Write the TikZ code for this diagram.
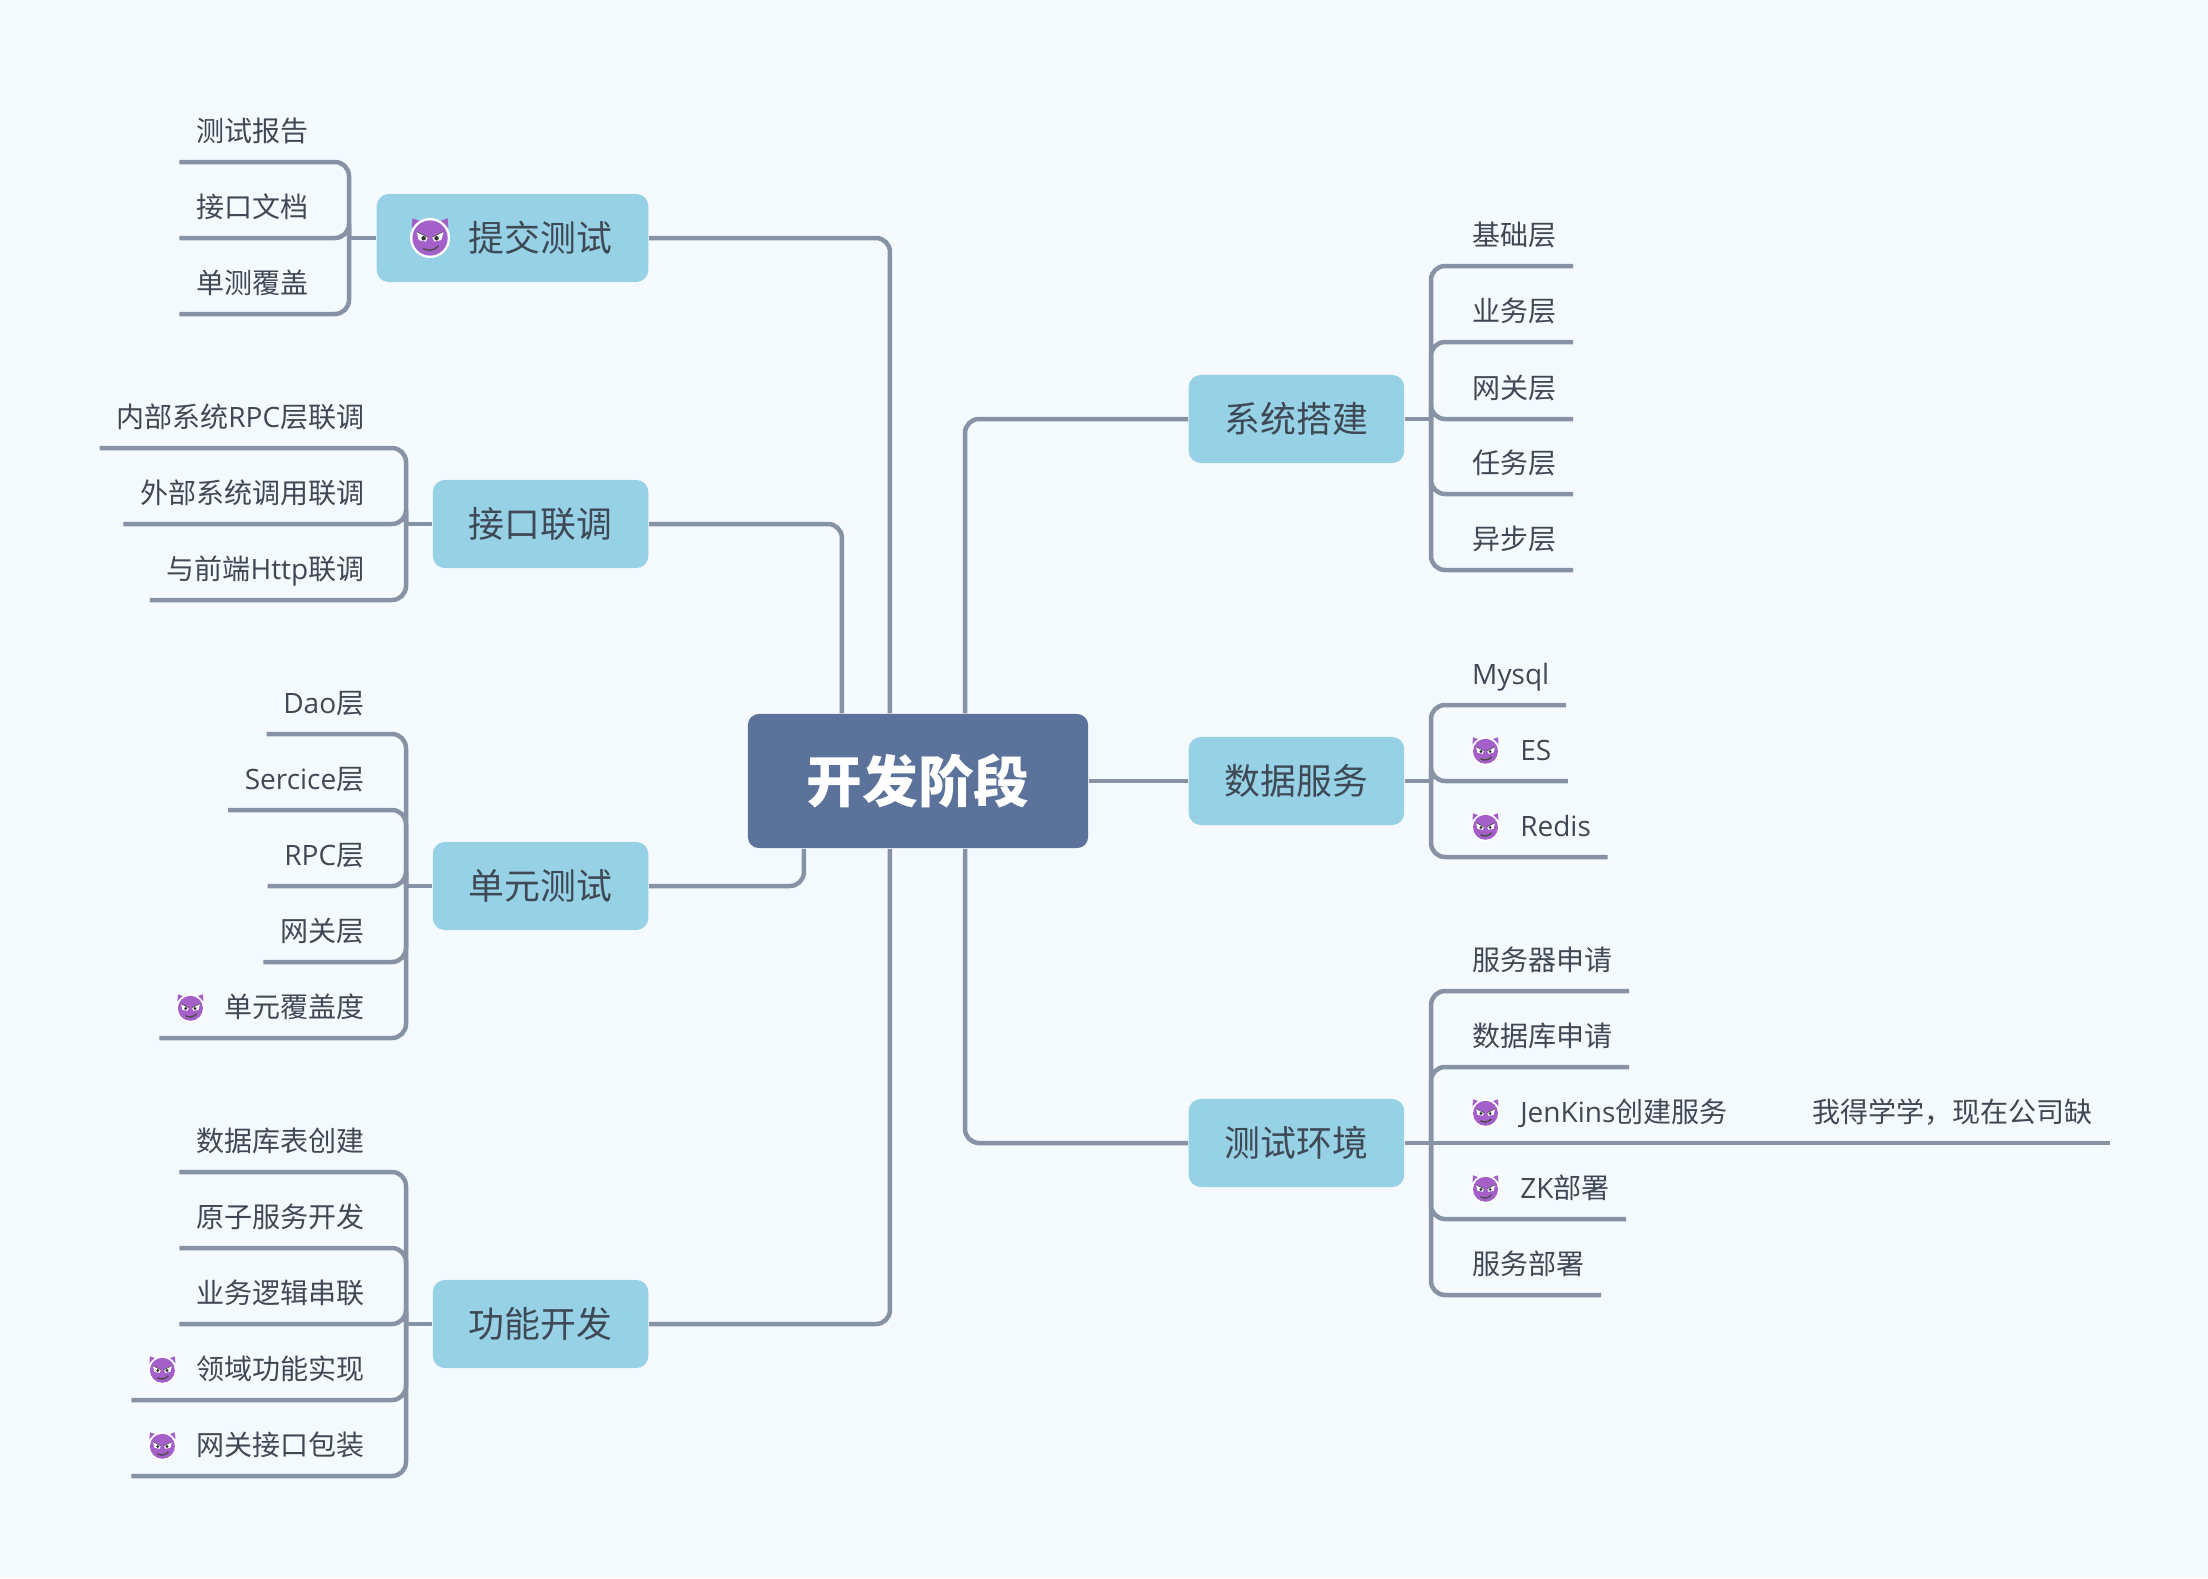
\documentclass[tikz,border=0pt]{standalone}
\usepackage{fontspec}
\setmainfont{Noto Sans CJK SC}
\newfontfamily\lat{Open Sans}
\usepackage{xcolor}
\usetikzlibrary{positioning,calc}
\definecolor{bgc}{HTML}{F5FAFF}
\definecolor{rootc}{HTML}{5B729B}
\definecolor{branchc}{HTML}{96D1E6}
\definecolor{linec}{HTML}{8793A5}
\definecolor{inkc}{HTML}{3F4955}
\definecolor{devilc}{HTML}{A45FC9}
\newcommand{\devilgap}{\hspace*{0.48cm}}
\tikzset{
  conn/.style={draw=linec,line width=0.045cm,rounded corners=0.14cm},
  rootbox/.style={fill=rootc,rounded corners=0.11cm,text=white,font=\fontsize{15.85}{18}\selectfont\bfseries,minimum width=3.4cm,minimum height=1.34cm,inner sep=0pt},
  branch/.style={fill=branchc,rounded corners=0.12cm,text=inkc,font=\fontsize{10.2}{12}\selectfont,minimum height=0.88cm,inner xsep=0.36cm,inner ysep=0pt},
  leaf/.style={text=inkc,font=\fontsize{7.97}{10}\selectfont,inner xsep=0.16cm,inner ysep=0.145cm,text height=0.24cm,text depth=0.05cm},
  leafl/.style={leaf,anchor=south east},
  leafr/.style={leaf,anchor=south west},
  devil/.pic={
    \fill[devilc] (-12.5,-14)--(-13,-7)--(-7,-12)--cycle;
    \fill[devilc] (12.5,-14)--(13,-7)--(7,-12)--cycle;
    \fill[white] (0,0) circle (14.2);
    \fill[devilc] (0,0) circle (12.5);
    \fill[white] (-9.5,-4.5)--(-1.5,-0.5)--(-3,2.5)--(-8,1.5)--cycle;
    \fill[white] (9.5,-4.5)--(1.5,-0.5)--(3,2.5)--(8,1.5)--cycle;
    \draw[black!70,line width=0.006cm] (-9.5,-4.5)--(-1.5,-0.5) (9.5,-4.5)--(1.5,-0.5);
    \fill[black!80] (-4.6,0.2) circle (1.6);
    \fill[black!80] (4.6,0.2) circle (1.6);
    \draw[black!70,line width=0.014cm] (-5,7.5) .. controls (-1,9.5) and (3,9) .. (6,5.5);
  },
}
\begin{document}
\begin{tikzpicture}[x=0.01cm,y=-0.01cm]
\useasboundingbox[fill=bgc] (0,0) rectangle (2208,1578);
\node[rootbox] (root) at (918,781) {开发阶段};
% left branches
\node[branch,anchor=east] (tijiao) at (649,238) {\hspace*{0.56cm}提交测试};
\node[branch,anchor=east] (liantiao) at (649,524) {接口联调};
\node[branch,anchor=east] (danyuan) at (649,886) {单元测试};
\node[branch,anchor=east] (gongneng) at (649,1324) {功能开发};
% right branches
\node[branch,anchor=west] (xitong) at (1188,419) {系统搭建};
\node[branch,anchor=west] (shuju) at (1188,781) {数据服务};
\node[branch,anchor=west] (huanjing) at (1188,1143) {测试环境};
\draw[conn] (tijiao.east) -| ([xshift=-0.28cm]root.north);
\draw[conn] (liantiao.east) -| ([xshift=-0.76cm]root.north);
\draw[conn] (danyuan.east) -| ([xshift=-1.14cm]root.south);
\draw[conn] (gongneng.east) -| ([xshift=-0.28cm]root.south);
\draw[conn] (xitong.west) -| ([xshift=0.47cm]root.north);
\draw[conn] (shuju.west) -- (root.east);
\draw[conn] (huanjing.west) -| ([xshift=0.47cm]root.south);
% hubs
\coordinate (tijiaohub) at (349,238);
\coordinate (liantiaohub) at (406,524);
\coordinate (danyuanhub) at (406,886);
\coordinate (gongnenghub) at (406,1324);
\coordinate (xitonghub) at (1431,419);
\coordinate (shujuhub) at (1431,781);
\coordinate (huanjinghub) at (1431,1143);
\draw[conn] (tijiao.west) -- (tijiaohub);
\draw[conn] (liantiao.west) -- (liantiaohub);
\draw[conn] (danyuan.west) -- (danyuanhub);
\draw[conn] (gongneng.west) -- (gongnenghub);
\draw[conn] (xitong.east) -- (xitonghub);
\draw[conn] (shuju.east) -- (shujuhub);
\draw[conn] (huanjing.east) -- (huanjinghub);
% left leaves
\foreach \nm/\lab/\y in {tja/测试报告/162,tjb/接口文档/238,tjc/单测覆盖/314}{
  \node[leafl] (\nm) at (325,\y) {\lab};
  \draw[conn] (\nm.south west) -| (tijiaohub);
}
\foreach \nm/\lab/\y in {lta/内部系统{\lat RPC}层联调/448,ltb/外部系统调用联调/524,ltc/与前端{\lat Http}联调/600}{
  \node[leafl] (\nm) at (381,\y) {\lab};
  \draw[conn] (\nm.south west) -| (liantiaohub);
}
\foreach \nm/\lab/\y in {dya/{\lat Dao}层/734,dyb/{\lat Sercice}层/810,dyc/{\lat RPC}层/886,dyd/网关层/962,dye/\devilgap 单元覆盖度/1038}{
  \node[leafl] (\nm) at (381,\y) {\lab};
  \draw[conn] (\nm.south west) -| (danyuanhub);
}
\foreach \nm/\lab/\y in {gna/数据库表创建/1172,gnb/原子服务开发/1248,gnc/业务逻辑串联/1324,gnd/\devilgap 领域功能实现/1400,gne/\devilgap 网关接口包装/1476}{
  \node[leafl] (\nm) at (381,\y) {\lab};
  \draw[conn] (\nm.south west) -| (gongnenghub);
}
% right leaves
\foreach \nm/\lab/\y in {xta/基础层/266,xtb/业务层/342,xtc/网关层/419,xtd/任务层/494,xte/异步层/570}{
  \node[leafr] (\nm) at (1455.5,\y) {\lab};
  \draw[conn] (xitonghub) |- (\nm.south east);
}
\foreach \nm/\lab/\y in {sja/{\lat Mysql}/705,sjb/\devilgap {\lat ES}/781,sjc/\devilgap {\lat Redis}/857}{
  \node[leafr] (\nm) at (1455.5,\y) {\lab};
  \draw[conn] (shujuhub) |- (\nm.south east);
}
\foreach \nm/\lab/\y in {hja/服务器申请/991,hjb/数据库申请/1067,hjd/\devilgap {\lat ZK}部署/1219,hje/服务部署/1295}{
  \node[leafr] (\nm) at (1455.5,\y) {\lab};
  \draw[conn] (huanjinghub) |- (\nm.south east);
}
\node[leafr] (hjc) at (1455.5,1143) {\devilgap {\lat JenKins}创建服务};
\node[leafr] (hjnote) at (1796,1143) {我得学学，现在公司缺};
\draw[conn] (huanjinghub) -- (hjc.south west) -- (hjnote.south east);
% devils
\pic[scale=1.41] at ([xshift=0.54cm]tijiao.west) {devil};
\foreach \nm in {dye,gnd,gne}{
  \pic at ([xshift=0.31cm]\nm.west) {devil};
}
\foreach \nm in {sjb,sjc,hjc,hjd}{
  \pic at ([xshift=0.3cm]\nm.west) {devil};
}
\end{tikzpicture}
\end{document}
